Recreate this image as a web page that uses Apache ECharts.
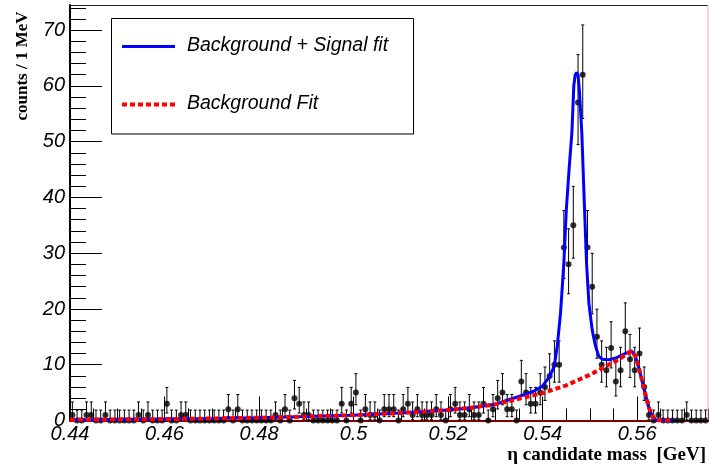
<!DOCTYPE html>
<html><head><meta charset="utf-8">
<script src="https://cdn.jsdelivr.net/npm/echarts@6/dist/echarts.min.js"></script>
<style>html,body{margin:0;padding:0;background:#fff}#c{width:709px;height:468px}</style>
</head><body><div id="c"></div>
<script>
// ---- data ----
const binLow = 0.44, binWidth = 0.001;
const counts = [
 1,0,0,1,1,0,0,1,0,0,
 0,0,0,0,1,0,1,0,0,0,
 3,0,0,1,1,0,0,0,0,0,
 0,0,0,2,0,2,0,0,0,0,
 0,0,0,1,0,2,0,4,3,1,
 1,0,0,0,0,0,0,3,0,3,
 5,0,2,1,1,0,2,2,2,0,
 2,3,1,2,1,1,1,2,1,0,
 2,3,1,1,2,1,1,3,0,2,
 4,5,2,2,0,7,5,3,3,5,
 6,8,10,10,31,28,35,57,62,31,
 24,15,10,9,13,7,9,16,11,9,
 12,6,1,0,1,0,0,0,0,0,
 1,0,0,0,0
];
const bkgX = [0.440,0.450,0.460,0.470,0.480,0.490,0.500,0.505,0.510,0.515,0.520,0.525,0.530,0.535,0.540,0.545,0.550,0.554,0.556,0.558,0.5588,0.5596,0.5603,0.5610,0.5617,0.5624,0.5631,0.5638,0.5645,0.5675];
const bkgY = [0.15,0.2,0.25,0.35,0.5,0.7,0.95,1.15,1.35,1.6,1.9,2.3,2.9,3.9,4.9,6.3,8.2,10.0,10.9,12.0,12.4,11.6,9.7,7.3,4.9,2.5,1.0,0.2,0.0,0.0];
const totX = [0.440,0.450,0.460,0.470,0.480,0.490,0.500,0.505,0.510,0.515,0.520,0.525,0.530,0.532,0.535,0.538,0.540,0.541,0.542,0.5425,0.5431,0.5438,0.5445,0.5450,0.5456,0.5462,0.5466,0.5469,0.5472,0.5475,0.5478,0.5483,0.5488,0.5493,0.5498,0.5505,0.5512,0.5519,0.5526,0.5540,0.5555,0.5570,0.5588,0.5596,0.5603,0.5610,0.5617,0.5624,0.5631,0.5638,0.5645,0.5675];
const totY = [0.15,0.2,0.25,0.35,0.5,0.7,0.95,1.15,1.35,1.6,1.9,2.3,2.9,3.5,4.3,5.2,6.2,7.3,8.8,9.9,13.3,19.3,28.2,37.5,45,51.6,60,62,62.4,62,59,51.6,39.6,28.2,21,16.2,13.3,11.5,11.0,10.9,11.2,11.8,12.5,11.6,9.7,7.3,4.9,2.5,1.0,0.2,0.0,0.0];
const legendLabels = ['Background + Signal fit','Background Fit'];
const xTitle = 'η candidate mass  [GeV]';
const yTitle = 'counts / 1 MeV';

// ---- build ----
const pts = counts.map((n,i)=>[binLow + (i+0.5)*binWidth, n]);
const errs = counts.map((n,i)=>{
  const lo = n>0 ? n - Math.sqrt(n-0.25) : 0;
  const hi = n + 1 + Math.sqrt(n+0.75);
  return [binLow + (i+0.5)*binWidth, lo, hi];
});
const bkg = bkgX.map((x,i)=>[x,bkgY[i]]);
const tot = totX.map((x,i)=>[x,totY[i]]);

const G = {left:70, right:1, top:5, bottom:47.5};
const XMIN=0.44, XMAX=0.575, YMIN=0, YMAX=74.5;
const lblFont = {fontFamily:'Liberation Sans', fontStyle:'italic', fontSize:20, color:'#000'};
const fmtX = v => String(Math.round(v*1000)/1000);

const chart = echarts.init(document.getElementById('c'), null, {renderer:'canvas'});
chart.setOption({
  animation:false,
  backgroundColor:'#fff',
  grid:[Object.assign({},G), Object.assign({},G)],
  xAxis:[
    {gridIndex:0, type:'value', min:XMIN, max:XMAX, interval:0.02,
     axisLine:{show:true, lineStyle:{color:'#800000', width:2}},
     axisTick:{show:true, inside:true, length:24, lineStyle:{color:'#000', width:1}},
     axisLabel:Object.assign({margin:4, showMaxLabel:false, formatter:fmtX}, lblFont),
     splitLine:{show:false}},
    {gridIndex:1, type:'value', min:XMIN, max:XMAX, interval:0.005,
     axisLine:{show:false}, axisTick:{show:true, inside:true, length:12, lineStyle:{color:'#000', width:1}},
     axisLabel:{show:false}, splitLine:{show:false}}
  ],
  yAxis:[
    {gridIndex:0, type:'value', min:YMIN, max:YMAX, interval:10,
     axisLine:{show:true, lineStyle:{color:'#000', width:2}},
     axisTick:{show:true, inside:true, length:32, lineStyle:{color:'#000', width:1}},
     axisLabel:Object.assign({margin:5, showMaxLabel:false}, lblFont),
     splitLine:{show:false}},
    {gridIndex:1, type:'value', min:YMIN, max:YMAX, interval:2,
     axisLine:{show:false}, axisTick:{show:true, inside:true, length:16, lineStyle:{color:'#000', width:1}},
     axisLabel:{show:false}, splitLine:{show:false}}
  ],
  series:[
    {type:'custom', xAxisIndex:0, yAxisIndex:0, data:errs, z:2,
     renderItem:(params, api)=>{
       const x=api.value(0), lo=api.value(1), hi=api.value(2);
       const a=api.coord([x,lo]), b=api.coord([x,hi]);
       const st={stroke:'#000', lineWidth:1};
       return {type:'group', children:[
         {type:'line', shape:{x1:a[0],y1:a[1],x2:b[0],y2:b[1]}, style:st},
         {type:'line', shape:{x1:a[0]-1.5,y1:a[1],x2:a[0]+1.5,y2:a[1]}, style:st},
         {type:'line', shape:{x1:b[0]-1.5,y1:b[1],x2:b[0]+1.5,y2:b[1]}, style:st}
       ]};
     }},
    {type:'scatter', xAxisIndex:0, yAxisIndex:0, data:pts, symbol:'circle', symbolSize:6,
     itemStyle:{color:'#000'}, z:3},
    {type:'line', name:legendLabels[0], xAxisIndex:0, yAxisIndex:0, data:tot, showSymbol:false, smooth:false,
     lineStyle:{color:'#0000ff', width:3}, z:4},
    {type:'line', name:legendLabels[1], xAxisIndex:0, yAxisIndex:0, data:bkg, showSymbol:false, smooth:false,
     lineStyle:{color:'#ff0000', width:4, type:[5,3], cap:'butt'}, z:5}
  ],
  graphic:[
    {type:'line', shape:{x1:70,y1:5.5,x2:708,y2:5.5}, style:{stroke:'#222', lineWidth:1}, z:10},
    {type:'line', shape:{x1:708,y1:5,x2:708,y2:420}, style:{stroke:'#ffa0a0', lineWidth:1}, z:10},
    {type:'rect', shape:{x:111.5,y:18.5,width:302,height:115.5}, style:{fill:'#fff', stroke:'#000', lineWidth:1}, z:20},
    {type:'line', shape:{x1:122,y1:46.5,x2:175,y2:46.5}, style:{stroke:'#0000ff', lineWidth:3}, z:21},
    {type:'line', shape:{x1:122,y1:104.5,x2:175,y2:104.5}, style:{stroke:'#ff0000', lineWidth:4, lineDash:[5,3]}, z:21},
    {type:'text', x:187, y:46, style:{text:legendLabels[0], font:'italic 19.5px "Liberation Sans"', fill:'#000', textVerticalAlign:'middle'}, z:21},
    {type:'text', x:187, y:104, style:{text:legendLabels[1], font:'italic 19.5px "Liberation Sans"', fill:'#000', textVerticalAlign:'middle'}, z:21},
    {type:'text', x:23, y:66, rotation:Math.PI/2, style:{text:yTitle, font:'bold 17px "Liberation Serif"', fill:'#000', textAlign:'center', textVerticalAlign:'middle'}, z:21},
    {type:'text', x:706, y:455, style:{text:xTitle, font:'bold 19px "Liberation Serif"', fill:'#000', textAlign:'right', textVerticalAlign:'middle'}, z:21}
  ]
});
</script>
</body></html>
